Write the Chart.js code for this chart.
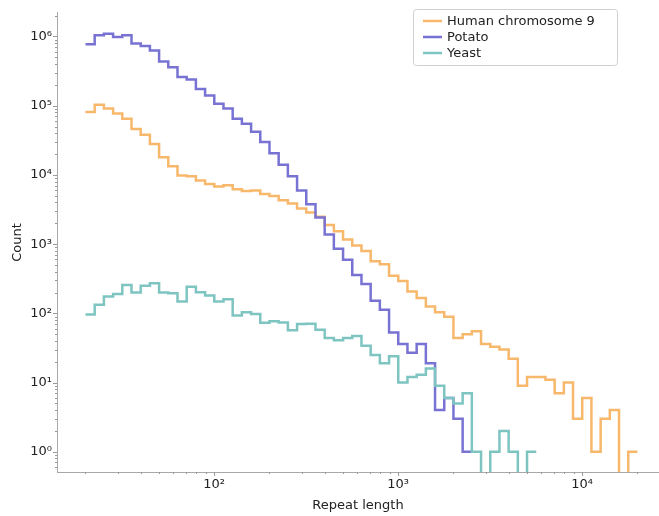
<!DOCTYPE html>
<html>
<head>
<meta charset="utf-8">
<script src="https://cdn.jsdelivr.net/npm/chart.js@4/dist/chart.umd.min.js"></script>
<style>
  html, body { margin: 0; padding: 0; background: #fff; }
</style>
</head>
<body>
<canvas id="repeat-chart" width="659" height="516"></canvas>
<script>
// log-spaced bin edges (20 .. 20000, 60 bins)
let binEdges = [
  20, 22.44, 25.18, 28.25, 31.70, 35.57, 39.91, 44.77, 50.24, 56.37,
  63.25, 70.96, 79.62, 89.34, 100.24, 112.47, 126.19, 141.59, 158.87, 178.25,
  200, 224.4, 251.8, 282.5, 317.0, 355.7, 399.1, 447.7, 502.4, 563.7,
  632.5, 709.6, 796.2, 893.4, 1002.4, 1124.7, 1261.9, 1415.9, 1588.7, 1782.5,
  2000, 2244, 2518, 2825, 3170, 3557, 3991, 4477, 5024, 5637,
  6325, 7096, 7962, 8934, 10024, 11247, 12619, 14159, 15887, 17825,
  20000
];

let humanCounts = [
  81000, 103000, 91000, 77000, 65000, 46000, 38000, 28000, 18000, 13300,
  9800, 9600, 8300, 7400, 6800, 7100, 6200, 5850, 5970, 5300,
  4960, 4300, 3850, 3270, 2870, 2490, 1890, 1530, 1170, 958,
  794, 566, 513, 349, 293, 206, 166, 126, 104, 89,
  44, 50, 55, 36, 33, 30, 22, 9, 12, 12,
  11, 7, 10, 3, 6, 1, 3, 4, 0, 1
];
let potatoCounts = [
  770000, 1040000, 1100000, 980000, 1040000, 790000, 730000, 630000, 435000, 360000,
  260000, 240000, 175000, 140000, 107000, 91000, 65000, 55000, 42000, 30000,
  20600, 14000, 9600, 5970, 3770, 2430, 1380, 857, 597, 357,
  266, 152, 113, 53, 36, 27, 36, 19, 4, 6, 3, 1
];
let yeastCounts = [
  96, 133, 175, 191, 257, 200, 251, 271, 200, 195,
  148, 243, 202, 181, 148, 160, 93, 104, 98, 73,
  77, 74, 57, 70, 71, 58, 44, 41, 44, 47,
  34, 25, 19, 24, 10, 12, 13, 16, 9, 6,
  5, 7, 1, 0, 1, 2, 1, 0, 1
];

let seriesNames = ["Human chromosome 9", "Potato", "Yeast"];
let xTickValues = [100, 1000, 10000];
let yTickValues = [1, 10, 100, 1000, 10000, 100000, 1000000];

let colors = ["#f8b86c", "#7873d3", "#7ec5c1"];
let fontFamily = "'DejaVu Sans', Verdana, sans-serif";

// zero counts go below the axis (clipped), like a log histogram does
function toSteps(counts) {
  let pts = counts.map((c, i) => ({ x: binEdges[i], y: c > 0 ? c : 0.05 }));
  pts.push({ x: binEdges[counts.length], y: pts[pts.length - 1].y });
  return pts;
}

const SUP = { "0": "⁰", "1": "¹", "2": "²", "3": "³", "4": "⁴", "5": "⁵", "6": "⁶", "-": "⁻" };
function powLabel(v) {
  let e = Math.round(Math.log10(v));
  return "10" + String(e).split("").map((ch) => SUP[ch]).join("");
}

// minor + major tick marks outside the axes
const tickMarks = {
  id: "tickMarks",
  afterDraw(chart) {
    const ctx = chart.ctx;
    const xs = chart.scales.x, ys = chart.scales.y;
    ctx.save();
    ctx.strokeStyle = "#9a9a9a";
    ctx.lineWidth = 1;
    for (let n = -1; n <= 6; n++) {
      for (let k = 1; k <= 9; k++) {
        let v = k * Math.pow(10, n);
        let len = k === 1 ? 4 : 2;
        if (v >= xs.min && v <= xs.max) {
          let px = Math.round(xs.getPixelForValue(v)) + 0.5;
          ctx.beginPath();
          ctx.moveTo(px, xs.top);
          ctx.lineTo(px, xs.top + len);
          ctx.stroke();
        }
        if (v >= ys.min && v <= ys.max) {
          let py = Math.round(ys.getPixelForValue(v)) + 0.5;
          ctx.beginPath();
          ctx.moveTo(ys.right, py);
          ctx.lineTo(ys.right - len, py);
          ctx.stroke();
        }
      }
    }
    ctx.restore();
  },
};

// boxed legend in the top right corner
const boxLegend = {
  id: "boxLegend",
  afterDraw(chart) {
    const ctx = chart.ctx;
    const x0 = 413, y0 = 9, w = 204, h = 56, r = 3;
    ctx.save();
    ctx.fillStyle = "rgba(255,255,255,0.85)";
    ctx.strokeStyle = "#d0d0d0";
    ctx.lineWidth = 1;
    ctx.beginPath();
    ctx.roundRect(x0 + 0.5, y0 + 0.5, w, h, r);
    ctx.fill();
    ctx.stroke();
    ctx.font = "13px " + fontFamily;
    ctx.textBaseline = "middle";
    ctx.fillStyle = "#222";
    chart.data.datasets.forEach((ds, i) => {
      let y = y0 + 12 + i * 16;
      ctx.strokeStyle = ds.borderColor;
      ctx.lineWidth = 2.5;
      ctx.beginPath();
      ctx.moveTo(423, y);
      ctx.lineTo(442, y);
      ctx.stroke();
      ctx.fillText(ds.label, 447, y + 1);
    });
    ctx.restore();
  },
};

let allCounts = [humanCounts, potatoCounts, yeastCounts];

new Chart(document.getElementById("repeat-chart").getContext("2d"), {
  type: "line",
  data: {
    datasets: seriesNames.map((name, i) => ({
      label: name,
      data: toSteps(allCounts[i]),
      borderColor: colors[i],
      borderWidth: 2.5,
      stepped: true,
      pointRadius: 0,
      fill: false,
      order: 3 - i,
    })),
  },
  options: {
    responsive: false,
    animation: false,
    layout: { padding: { top: 8, right: 0, bottom: 0, left: 0 } },
    plugins: {
      legend: { display: false },
      tooltip: { enabled: false },
    },
    scales: {
      x: {
        type: "logarithmic",
        min: 14.0,
        max: 26200,
        afterBuildTicks: (s) => { s.ticks = xTickValues.map((v) => ({ value: v })); },
        afterFit: (s) => { s.height = 44; },
        grid: { display: false, drawTicks: false },
        border: { display: true, color: "#a8a8a8", width: 1 },
        ticks: {
          autoSkip: false,
          maxRotation: 0,
          padding: 5,
          color: "#222",
          font: { family: fontFamily, size: 13 },
          callback: (v) => powLabel(v),
        },
        title: {
          display: true,
          text: "Repeat length",
          color: "#222",
          font: { family: fontFamily, size: 13 },
          padding: { top: 0, bottom: 3 },
        },
      },
      y: {
        type: "logarithmic",
        min: 0.51,
        max: 2.2e6,
        afterBuildTicks: (s) => { s.ticks = yTickValues.map((v) => ({ value: v })); },
        afterFit: (s) => { s.width = 57; },
        grid: { display: false, drawTicks: false },
        border: { display: true, color: "#a8a8a8", width: 1 },
        ticks: {
          autoSkip: false,
          padding: 5,
          color: "#222",
          font: { family: fontFamily, size: 13 },
          callback: (v) => powLabel(v),
        },
        title: {
          display: true,
          text: "Count",
          color: "#222",
          font: { family: fontFamily, size: 13 },
          padding: { top: 10, bottom: 0 },
        },
      },
    },
  },
  plugins: [tickMarks, boxLegend],
});
</script>
</body>
</html>
